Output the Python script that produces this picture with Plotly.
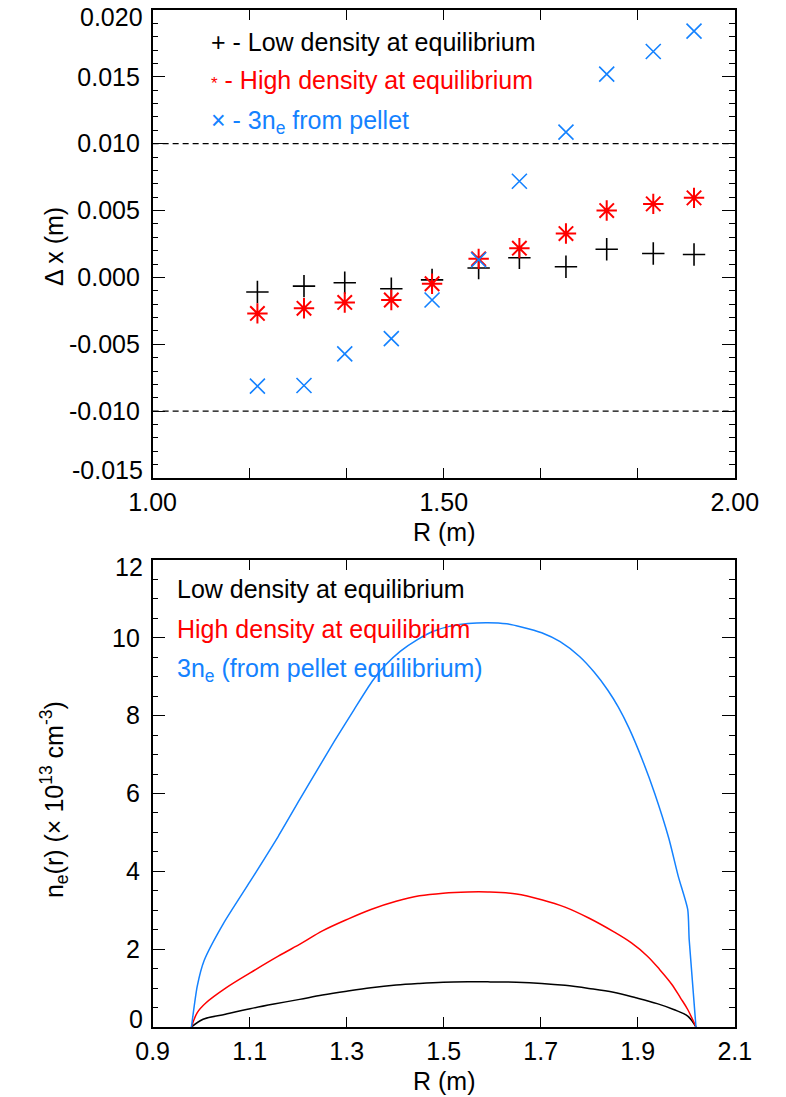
import plotly.graph_objects as go

# ---------------- data: top panel (Delta x vs R) ----------------
R_pts = [1.18, 1.26, 1.33, 1.41, 1.48, 1.56, 1.63, 1.71, 1.78, 1.86, 1.93]
dx_low = [-0.00109, -0.00065, -0.00040, -0.00085, -0.00018, 0.00070, 0.00147,
          0.00080, 0.00211, 0.00179, 0.00172]
dx_high = [-0.00269, -0.00231, -0.00187, -0.00169, -0.00047, 0.00139, 0.00219,
           0.00328, 0.00500, 0.00550, 0.00595]
dx_pellet = [-0.00813, -0.00808, -0.00572, -0.00458, -0.00169, 0.00132, 0.00719,
             0.01087, 0.01520, 0.01690, 0.01842]

# ---------------- data: bottom panel (density profiles) ----------------
R_low = [0.98, 1.004, 1.05, 1.101, 1.15, 1.203, 1.25, 1.30, 1.35, 1.402, 1.45, 1.499,
         1.55, 1.591, 1.65, 1.702, 1.75, 1.799, 1.85, 1.896, 1.94, 1.974, 2.003, 2.02]
n_low = [0.0, 0.20, 0.33, 0.47, 0.59, 0.71, 0.82, 0.92, 1.01, 1.08, 1.12, 1.15,
         1.16, 1.16, 1.15, 1.12, 1.07, 0.99, 0.89, 0.75, 0.60, 0.45, 0.28, 0.0]

R_high = [0.98, 0.992, 1.009, 1.052, 1.101, 1.159, 1.208, 1.25, 1.30, 1.35, 1.402,
          1.45, 1.499, 1.55, 1.591, 1.65, 1.702, 1.75, 1.799, 1.85, 1.887, 1.92, 1.945,
          1.97, 1.988, 2.003, 2.02]
n_high = [0.0, 0.37, 0.61, 1.01, 1.39, 1.82, 2.16, 2.47, 2.76, 3.02, 3.23,
          3.37, 3.44, 3.47, 3.47, 3.42, 3.27, 3.08, 2.80, 2.45, 2.16, 1.82, 1.48,
          1.10, 0.75, 0.45, 0.0]

R_pel = [0.98, 0.992, 1.006, 1.047, 1.101, 1.159, 1.203, 1.24, 1.275, 1.315, 1.353,
         1.38, 1.411, 1.445, 1.479, 1.52, 1.55, 1.591, 1.63, 1.66, 1.702, 1.74, 1.78,
         1.81, 1.838, 1.86, 1.882, 1.91, 1.935, 1.964, 1.984, 2.003, 2.006, 2.02]
n_pel = [0.0, 1.05, 1.70, 2.68, 3.74, 4.90, 5.84, 6.62, 7.35, 8.15, 8.89,
         9.30, 9.66, 9.95, 10.17, 10.32, 10.37, 10.39, 10.36, 10.28, 10.13, 9.90, 9.52,
         9.12, 8.66, 8.22, 7.68, 6.85, 6.00, 4.85, 3.85, 3.02, 2.25, 0.0]

# tick definitions
top_xticks = [1.0, 1.0 + 1/6, 1.0 + 2/6, 1.5, 1.0 + 4/6, 1.0 + 5/6, 2.0]
top_xtext = ["1.00", "", "", "1.50", "", "", "2.00"]
top_yticks = [-0.015, -0.010, -0.005, 0.0, 0.005, 0.010, 0.015, 0.020]
top_ytext = ["-0.015", "-0.010", "-0.005", "0.000", "0.005", "0.010", "0.015", "0.020"]
bot_xticks = [0.9, 1.1, 1.3, 1.5, 1.7, 1.9, 2.1]
bot_xtext = ["0.9", "1.1", "1.3", "1.5", "1.7", "1.9", "2.1"]
bot_yticks = [0, 2, 4, 6, 8, 10, 12]
bot_ytext = ["0", "2", "4", "6", "8", "10", "12"]

BLUE = "rgb(20,130,255)"
RED = "rgb(255,0,0)"
FONT = "Liberation Sans, Arial, Helvetica, sans-serif"
FS = 25

W, H = 786, 1097
xdom = [137 / W, 757 / W]
top_dom = [1 - 478 / H, 1 - 10 / H]
bot_dom = [1 - 1027 / H, 1 - 560 / H]

fig = go.Figure()

# top panel markers
fig.add_trace(go.Scatter(x=R_pts, y=dx_low, mode="markers", xaxis="x", yaxis="y",
                         marker=dict(symbol="cross-thin-open", size=16, color="black",
                                     line=dict(color="black", width=1.6)),
                         showlegend=False))
fig.add_trace(go.Scatter(x=R_pts, y=dx_high, mode="markers", xaxis="x", yaxis="y",
                         marker=dict(symbol="asterisk-open", size=17, color=RED,
                                     line=dict(color=RED, width=2.0)),
                         showlegend=False))
fig.add_trace(go.Scatter(x=R_pts, y=dx_pellet, mode="markers", xaxis="x", yaxis="y",
                         marker=dict(symbol="x-thin-open", size=15, color=BLUE,
                                     line=dict(color=BLUE, width=1.6)),
                         showlegend=False))

# bottom panel curves
fig.add_trace(go.Scatter(x=R_low, y=n_low, mode="lines", xaxis="x2", yaxis="y2",
                         line=dict(color="black", width=1.5, shape="spline"),
                         showlegend=False))
fig.add_trace(go.Scatter(x=R_high, y=n_high, mode="lines", xaxis="x2", yaxis="y2",
                         line=dict(color=RED, width=1.5, shape="spline"),
                         showlegend=False))
fig.add_trace(go.Scatter(x=R_pel, y=n_pel, mode="lines", xaxis="x2", yaxis="y2",
                         line=dict(color=BLUE, width=1.5, shape="spline", smoothing=0.6),
                         showlegend=False))

# dashed reference lines at +/-0.010
for yv in (0.010, -0.010):
    fig.add_shape(type="line", xref="x domain", yref="y", x0=0, x1=1, y0=yv, y1=yv,
                  line=dict(color="black", width=1.3, dash="6px,4px"))

axis_common = dict(showline=True, linecolor="black", linewidth=1.5, mirror="ticks",
                   ticks="inside", tickcolor="black", tickwidth=1.3, showgrid=False,
                   zeroline=False, tickfont=dict(family=FONT, size=FS, color="black"),
                   tickmode="array")

# end labels of the y axes are drawn as annotations (shifted inward like the original)
top_ytext_axis = [""] + top_ytext[1:-1] + [""]
bot_ytext_axis = [""] + bot_ytext[1:-1] + [""]

fig.update_layout(
    width=W, height=H, margin=dict(l=0, r=0, t=0, b=0),
    paper_bgcolor="white", plot_bgcolor="white",
    font=dict(family=FONT, size=FS, color="black"),
    xaxis=dict(domain=xdom, range=[1.0, 2.0], anchor="y", tickvals=top_xticks,
               ticktext=top_xtext, ticklen=10, ticklabelstandoff=1, **axis_common),
    yaxis=dict(domain=top_dom, range=[-0.015, 0.020], anchor="x", tickvals=top_yticks,
               ticktext=top_ytext_axis, ticklen=13, ticklabelstandoff=6,
               minor=dict(dtick=0.001, tick0=0, ticks="inside", ticklen=6,
                          tickcolor="black", tickwidth=1.2), **axis_common),
    xaxis2=dict(domain=xdom, range=[0.9, 2.1], anchor="y2", tickvals=bot_xticks,
                ticktext=bot_xtext, ticklen=10, ticklabelstandoff=1, **axis_common),
    yaxis2=dict(domain=bot_dom, range=[0, 12], anchor="x2", tickvals=bot_yticks,
                ticktext=bot_ytext_axis, ticklen=13, ticklabelstandoff=6,
                minor=dict(dtick=0.5, tick0=0, ticks="inside", ticklen=6,
                           tickcolor="black", tickwidth=1.2), **axis_common),
)

def ann(text, x, y, color="black", xanchor="left", angle=0, size=FS):
    fig.add_annotation(text=text, x=x, y=y, xref="paper", yref="paper",
                       xanchor=xanchor, yanchor="middle", showarrow=False,
                       textangle=angle, font=dict(family=FONT, size=size, color=color))

def end_label(text, yval, yref, xref, shift):
    fig.add_annotation(text=text, x=0, y=yval, xref=xref, yref=yref, xanchor="right",
                       yanchor="middle", xshift=-8, yshift=shift, showarrow=False,
                       font=dict(family=FONT, size=FS, color="black"))

end_label(top_ytext[0], top_yticks[0], "y", "x domain", 8)
end_label(top_ytext[-1], top_yticks[-1], "y", "x domain", -7)
end_label(bot_ytext[0], bot_yticks[0], "y2", "x2 domain", 8)
end_label(bot_ytext[-1], bot_yticks[-1], "y2", "x2 domain", -7)

# top legend
ann("+ - Low density at equilibrium", 197 / W, 1 - 42 / H)
ann("<span style='font-size:17px'>*</span> - High density at equilibrium", 197 / W, 1 - 80 / H, RED)
ann("× - 3n<sub>e</sub> from pellet", 197 / W, 1 - 122 / H, BLUE)

# bottom legend
ann("Low density at equilibrium", 161 / W, 1 - 589 / H)
ann("High density at equilibrium", 161 / W, 1 - 629 / H, RED)
ann("3n<sub>e</sub> (from pellet equilibrium)", 161 / W, 1 - 670 / H, BLUE)

# axis titles
ann("R (m)", 447 / W, 1 - 532 / H, xanchor="center")
ann("R (m)", 447 / W, 1 - 1081 / H, xanchor="center")
ann("Δ x (m)", 32 / W, 1 - 247 / H, xanchor="center", angle=-90)
ann("n<sub>e</sub>(r) (× 10<sup>13</sup> cm<sup>-3</sup>)", 32 / W, 1 - 800 / H,
    xanchor="center", angle=-90)

fig.write_html("out.html")
